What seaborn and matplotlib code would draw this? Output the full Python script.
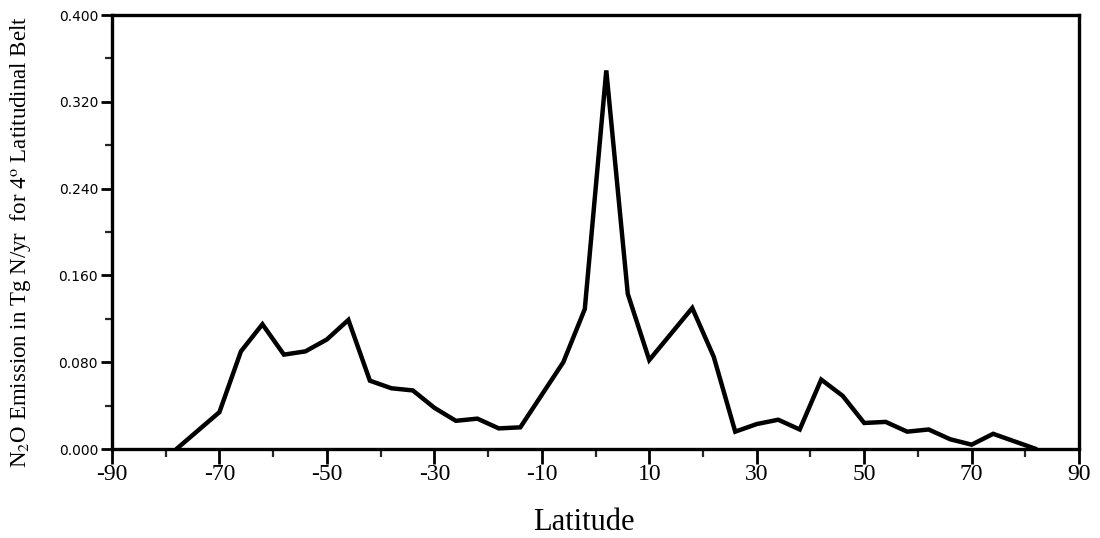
import numpy as np
import pandas as pd
import matplotlib
matplotlib.use("Agg")
import matplotlib.pyplot as plt
from matplotlib.ticker import FixedLocator
import seaborn as sns

# Belt centres (degrees latitude) and N2O emission per 4-degree belt (Tg N/yr)
latitude = [-78, -74, -70, -66, -62, -58, -54, -50, -46, -42, -38, -34, -30, -26,
            -22, -18, -14, -10, -6, -2, 2, 6, 10, 14, 18, 22, 26, 30, 34, 38,
            42, 46, 50, 54, 58, 62, 66, 70, 74, 78, 82]
emission = [0.000, 0.017, 0.034, 0.090, 0.115, 0.087, 0.090, 0.101, 0.119, 0.063,
            0.056, 0.054, 0.038, 0.026, 0.028, 0.019, 0.020, 0.050, 0.080, 0.129,
            0.349, 0.143, 0.082, 0.106, 0.130, 0.085, 0.016, 0.023, 0.027, 0.018,
            0.064, 0.049, 0.024, 0.025, 0.016, 0.018, 0.009, 0.004, 0.014, 0.007,
            0.000]

x_major = [-90, -70, -50, -30, -10, 10, 30, 50, 70, 90]
x_minor = [-80, -60, -40, -20, 0, 20, 40, 60, 80]
y_major = [0.000, 0.080, 0.160, 0.240, 0.320, 0.400]
y_minor = [0.040, 0.120, 0.200, 0.280, 0.360]

df = pd.DataFrame({"Latitude": latitude, "Emission": emission})

sns.set_theme(style="white")
plt.rcParams["font.family"] = ["Liberation Serif", "DejaVu Serif"]
plt.rcParams["mathtext.fontset"] = "stix"

fig = plt.figure(figsize=(11.0, 5.38), dpi=100)
ax = fig.add_axes([0.1018, 0.1654, 0.8792, 0.8066])

sns.lineplot(data=df, x="Latitude", y="Emission", color="black",
             linewidth=3.2, ax=ax, solid_joinstyle="miter")

ax.set_xlim(-90, 90)
ax.set_ylim(0, 0.4)

for side in ["left", "bottom", "right", "top"]:
    ax.spines[side].set_visible(True)
    ax.spines[side].set_color("black")
    ax.spines[side].set_linewidth(2.4)

ax.xaxis.set_major_locator(FixedLocator(x_major))
ax.xaxis.set_minor_locator(FixedLocator(x_minor))
ax.yaxis.set_major_locator(FixedLocator(y_major))
ax.yaxis.set_minor_locator(FixedLocator(y_minor))
ax.set_xticklabels([str(v) for v in x_major])
ax.set_yticklabels([f"{v:.3f}" for v in y_major])

ax.tick_params(axis="x", which="major", direction="out", length=11, width=2.0,
               labelsize=17, pad=0, colors="black", bottom=True, top=False)
ax.tick_params(axis="x", which="minor", direction="out", length=6, width=1.6,
               bottom=True, top=False)
ax.tick_params(axis="y", which="major", direction="out", length=8, width=2.0,
               labelsize=10, pad=2, colors="black", left=True, right=False)
ax.tick_params(axis="y", which="minor", direction="out", length=5, width=1.6,
               left=True, right=False)
for lbl in ax.get_yticklabels():
    lbl.set_fontfamily("DejaVu Sans")

ax.set_xlabel("Latitude", fontsize=22, color="black")
ax.xaxis.set_label_coords(0.488, -0.135)
ax.set_ylabel("N$_2$O Emission in Tg N/yr  for 4$^{\\mathrm{o}}$ Latitudinal Belt",
              fontsize=16.5, color="black")
ax.yaxis.set_label_coords(-0.082, 0.478)

fig.savefig("out.png", dpi=100, facecolor="white")
